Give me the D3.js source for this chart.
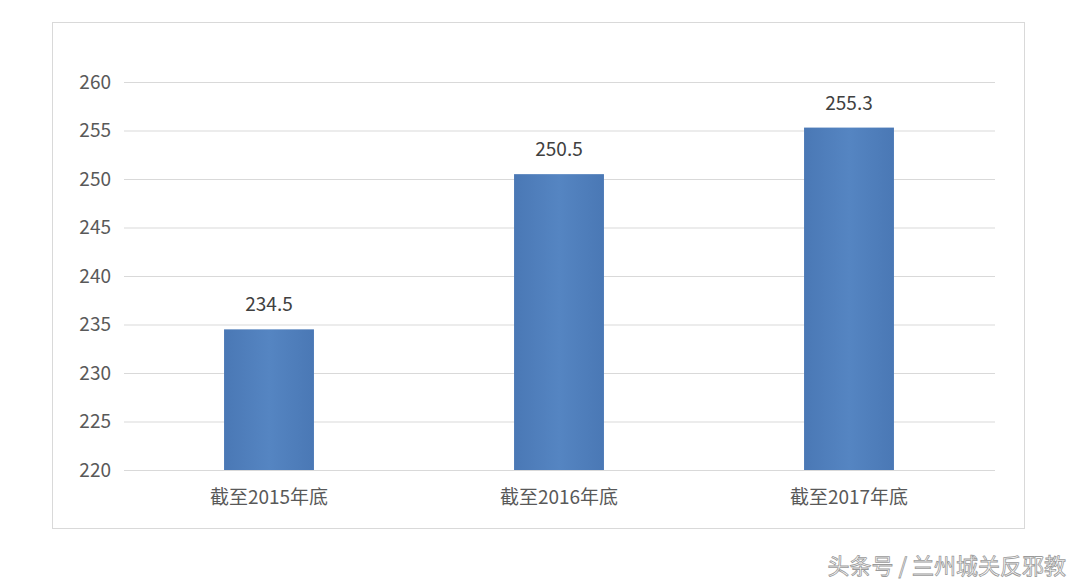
<!DOCTYPE html>
<html>
<head>
<meta charset="utf-8">
<script src="https://cdn.jsdelivr.net/npm/d3@7"></script>
<style>
  body { margin: 0; background: #fff; }
  svg { display: block; font-family: "Noto Sans CJK SC", "DejaVu Sans", sans-serif; }
</style>
</head>
<body>
<svg id="chart" width="1080" height="585"></svg>
<script>
// Data
const categories = ['截至2015年底', '截至2016年底', '截至2017年底'];
const values = [234.5, 250.5, 255.3];
const yTicks = [220, 225, 230, 235, 240, 245, 250, 255, 260];

const svg = d3.select('#chart');

// chart frame
svg.append('rect')
  .attr('x', 52.5).attr('y', 22.5).attr('width', 972).attr('height', 506)
  .attr('fill', '#fff').attr('stroke', '#d9d9d9');

const x = d3.scaleBand().domain(categories).range([124, 994]).paddingInner(0.69).paddingOuter(0.345);
const y = d3.scaleLinear().domain([220, 260]).range([470, 82]);

// gridlines
svg.append('g').selectAll('line').data(yTicks).join('line')
  .attr('x1', 124).attr('x2', 995)
  .attr('y1', d => y(d) + 0.5).attr('y2', d => y(d) + 0.5)
  .attr('stroke', '#d9d9d9');

// y labels
svg.append('g').selectAll('text').data(yTicks).join('text')
  .attr('x', 111).attr('y', d => y(d)).attr('dy', '0.35em')
  .attr('text-anchor', 'end').attr('font-size', 19).attr('fill', '#595959')
  .text(d => d);

const grad = svg.append('defs').append('linearGradient').attr('id', 'barGrad');
grad.append('stop').attr('offset', '0%').attr('stop-color', '#4a78b5');
grad.append('stop').attr('offset', '50%').attr('stop-color', '#5585c2');
grad.append('stop').attr('offset', '100%').attr('stop-color', '#4a78b5');

// bars
svg.append('g').selectAll('rect').data(values).join('rect')
  .attr('x', (d, i) => x(categories[i]))
  .attr('y', d => y(d))
  .attr('width', x.bandwidth())
  .attr('height', d => y(220) - y(d))
  .attr('fill', 'url(#barGrad)');

// value labels
svg.append('g').selectAll('text').data(values).join('text')
  .attr('x', (d, i) => x(categories[i]) + x.bandwidth() / 2)
  .attr('y', d => y(d) - 18)
  .attr('text-anchor', 'middle').attr('font-size', 19).attr('fill', '#404040')
  .text(d => d.toFixed(1));

// category labels
svg.append('g').selectAll('text').data(categories).join('text')
  .attr('x', d => x(d) + x.bandwidth() / 2)
  .attr('y', 504)
  .attr('text-anchor', 'middle').attr('font-size', 19).attr('fill', '#595959')
  .text(d => d);

// watermark
svg.append('text')
  .attr('x', 1066).attr('y', 574).attr('text-anchor', 'end')
  .attr('font-size', 22).attr('fill', '#fff')
  .attr('stroke', '#9a9a9a').attr('stroke-width', 0.8)
  .text('头条号 / 兰州城关反邪教');
</script>
</body>
</html>
